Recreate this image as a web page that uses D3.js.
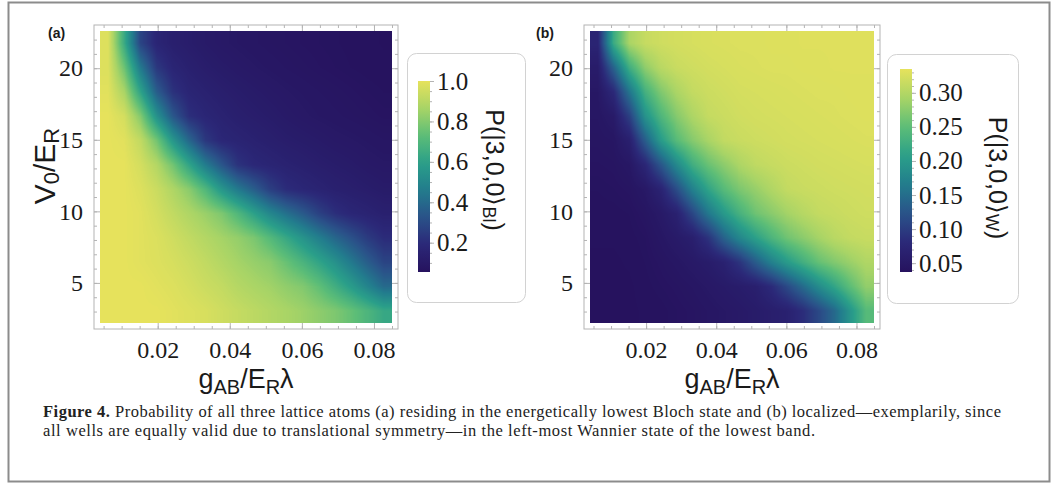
<!DOCTYPE html>
<html>
<head>
<meta charset="utf-8">
<script src="https://cdn.jsdelivr.net/npm/d3@7"></script>
<style>
  body { margin: 0; background: #fff; }
  svg { display: block; }
</style>
</head>
<body>
<div id="chart"></div>
<script>
// interaction strength g_AB/(E_R lambda), cell centres
const gValues = [0.00625, 0.01075, 0.01525, 0.01975, 0.02425, 0.02875, 0.03325, 0.03775, 0.04225,
                 0.04675, 0.05125, 0.05575, 0.06025, 0.06475, 0.06925, 0.07375, 0.07825, 0.08275];
// lattice depth V0/E_R, cell centres, top row first
const v0Values = [21.75, 20.05, 18.35, 16.65, 14.95, 13.25, 11.55, 9.85, 8.15, 6.45, 4.75, 3.05];

// (a) P(|3,0,0>_Bl)
const probBloch = [
  [0.98, 0.64, 0.28, 0.17, 0.137, 0.122, 0.108, 0.097, 0.090, 0.084, 0.079, 0.075, 0.071, 0.068, 0.065, 0.062, 0.059, 0.056],
  [0.98, 0.76, 0.45, 0.24, 0.17, 0.143, 0.125, 0.113, 0.103, 0.095, 0.088, 0.082, 0.077, 0.072, 0.068, 0.064, 0.061, 0.059],
  [0.99, 0.87, 0.61, 0.36, 0.22, 0.17, 0.15, 0.134, 0.122, 0.112, 0.103, 0.095, 0.089, 0.083, 0.078, 0.073, 0.068, 0.064],
  [1.00, 0.96, 0.80, 0.54, 0.34, 0.21, 0.175, 0.155, 0.137, 0.127, 0.117, 0.106, 0.097, 0.090, 0.085, 0.080, 0.075, 0.070],
  [1.00, 0.99, 0.92, 0.77, 0.56, 0.39, 0.24, 0.18, 0.165, 0.15, 0.137, 0.125, 0.117, 0.109, 0.10, 0.095, 0.089, 0.083],
  [1.00, 1.00, 0.96, 0.89, 0.77, 0.615, 0.46, 0.336, 0.224, 0.184, 0.168, 0.153, 0.141, 0.129, 0.12, 0.112, 0.102, 0.096],
  [1.00, 1.00, 0.98, 0.94, 0.88, 0.81, 0.70, 0.56, 0.45, 0.36, 0.26, 0.20, 0.177, 0.16, 0.143, 0.133, 0.123, 0.113],
  [1.00, 1.00, 0.99, 0.96, 0.92, 0.88, 0.84, 0.79, 0.70, 0.60, 0.50, 0.42, 0.35, 0.27, 0.21, 0.177, 0.16, 0.143],
  [1.00, 1.00, 0.99, 0.976, 0.95, 0.92, 0.89, 0.86, 0.83, 0.785, 0.71, 0.63, 0.55, 0.47, 0.39, 0.32, 0.25, 0.20],
  [1.00, 1.00, 0.99, 0.98, 0.965, 0.945, 0.92, 0.89, 0.86, 0.835, 0.81, 0.75, 0.685, 0.615, 0.54, 0.45, 0.36, 0.28],
  [1.00, 1.00, 1.00, 0.99, 0.98, 0.962, 0.942, 0.923, 0.893, 0.872, 0.853, 0.823, 0.797, 0.738, 0.66, 0.58, 0.49, 0.40],
  [1.00, 1.00, 1.00, 1.00, 0.99, 0.98, 0.968, 0.948, 0.928, 0.908, 0.888, 0.868, 0.847, 0.818, 0.79, 0.745, 0.69, 0.63]
];

// (b) P(|3,0,0>_W)
const probWannier = [
  [0.072, 0.223, 0.294, 0.313, 0.319, 0.322, 0.324, 0.326, 0.327, 0.328, 0.328, 0.329, 0.329, 0.330, 0.330, 0.330, 0.330, 0.330],
  [0.056, 0.139, 0.227, 0.278, 0.304, 0.315, 0.319, 0.322, 0.324, 0.326, 0.327, 0.328, 0.328, 0.329, 0.329, 0.330, 0.330, 0.330],
  [0.048, 0.079, 0.157, 0.231, 0.270, 0.295, 0.311, 0.317, 0.320, 0.323, 0.324, 0.325, 0.326, 0.327, 0.328, 0.328, 0.329, 0.329],
  [0.046, 0.054, 0.103, 0.191, 0.239, 0.273, 0.296, 0.312, 0.316, 0.320, 0.322, 0.323, 0.324, 0.325, 0.326, 0.327, 0.328, 0.329],
  [0.044, 0.046, 0.063, 0.133, 0.202, 0.246, 0.273, 0.293, 0.310, 0.315, 0.318, 0.320, 0.322, 0.323, 0.324, 0.325, 0.326, 0.327],
  [0.042, 0.043, 0.048, 0.075, 0.126, 0.180, 0.227, 0.257, 0.277, 0.296, 0.308, 0.313, 0.317, 0.319, 0.321, 0.322, 0.323, 0.324],
  [0.040, 0.041, 0.043, 0.050, 0.070, 0.117, 0.170, 0.213, 0.246, 0.268, 0.283, 0.298, 0.311, 0.315, 0.317, 0.319, 0.320, 0.321],
  [0.039, 0.039, 0.040, 0.044, 0.052, 0.066, 0.110, 0.160, 0.200, 0.233, 0.260, 0.275, 0.290, 0.302, 0.311, 0.314, 0.317, 0.319],
  [0.038, 0.038, 0.039, 0.041, 0.047, 0.054, 0.062, 0.090, 0.139, 0.178, 0.208, 0.237, 0.261, 0.276, 0.291, 0.304, 0.311, 0.314],
  [0.037, 0.037, 0.038, 0.040, 0.043, 0.047, 0.052, 0.057, 0.067, 0.092, 0.132, 0.170, 0.202, 0.229, 0.255, 0.271, 0.285, 0.298],
  [0.037, 0.037, 0.037, 0.039, 0.041, 0.043, 0.046, 0.050, 0.054, 0.058, 0.063, 0.081, 0.113, 0.147, 0.183, 0.215, 0.250, 0.280],
  [0.037, 0.037, 0.037, 0.038, 0.039, 0.041, 0.043, 0.046, 0.049, 0.052, 0.056, 0.061, 0.066, 0.084, 0.112, 0.145, 0.195, 0.245]
];

const xTickValues = [0.02, 0.04, 0.06, 0.08];
const yTickValues = [5, 10, 15, 20];
const blochTicks = [0.2, 0.4, 0.6, 0.8, 1.0];
const wannierTicks = [0.05, 0.10, 0.15, 0.20, 0.25, 0.30];
const blochRange = [0.055, 1.0];
const wannierRange = [0.037, 0.335];
const colorStops = ["#26125e", "#2b2878", "#2a5289", "#227c8d", "#2a9f89", "#5cbd77", "#a8d466", "#e6e25c"];

const captionLine1 = " Probability of all three lattice atoms (a) residing in the energetically lowest Bloch state and (b) localized\u2014exemplarily, since";
const captionLine2 = "all wells are equally valid due to translational symmetry\u2014in the left-most Wannier state of the lowest band.";

const W = 1053, H = 489;
const serif = "'Liberation Serif', 'Times New Roman', serif";
const sans = "'Liberation Sans', Arial, sans-serif";
const frameColor = "#b4b4b4";

const svg = d3.select("#chart").append("svg")
    .attr("width", W)
    .attr("height", H);

svg.append("rect").attr("width", W).attr("height", H).attr("fill", "#fff");
svg.append("rect")
    .attr("x", 8.5).attr("y", 2.5)
    .attr("width", 1041).attr("height", 479)
    .attr("fill", "none")
    .attr("stroke", "#8c8c8c")
    .attr("stroke-width", 2);

const colorRamp = d3.piecewise(d3.interpolateRgb, colorStops);
const lut = d3.range(256).map(i => d3.rgb(colorRamp(i / 255)));
const defs = svg.append("defs");

// cell extents from the centres
const dg = gValues[1] - gValues[0];
const dv = v0Values[0] - v0Values[1];
const gExtent = [gValues[0] - dg / 2, gValues[gValues.length - 1] + dg / 2];
const vExtent = [v0Values[v0Values.length - 1] - dv / 2, v0Values[0] + dv / 2];

function styleAxis(g, size) {
    g.select(".domain").remove();
    g.selectAll(".tick line").attr("stroke", frameColor);
    g.selectAll(".tick text")
        .attr("font-family", serif)
        .attr("font-size", size)
        .attr("fill", "#1a1a1a");
}

function drawPanel(p) {
    let x = d3.scaleLinear().domain(gExtent).range([p.left, p.right]);
    let y = d3.scaleLinear().domain(vExtent).range([p.bottom, p.top]);
    let c = d3.scaleLinear().domain(p.range).range([0, 255]).clamp(true);

    // heatmap, shaded smoothly between the grid cells
    let nx = gValues.length, ny = v0Values.length;
    let wpx = Math.round(p.right - p.left), hpx = Math.round(p.bottom - p.top);
    let canvas = document.createElement("canvas");
    canvas.width = wpx;
    canvas.height = hpx;
    let ctx = canvas.getContext("2d");
    let img = ctx.createImageData(wpx, hpx);
    for (let py = 0; py < hpx; py++) {
        let fy = (v0Values[0] - y.invert(p.top + py + 0.5)) / dv;
        fy = Math.max(0, Math.min(ny - 1, fy));
        let j0 = Math.min(Math.floor(fy), ny - 2), ty = fy - j0;
        for (let px = 0; px < wpx; px++) {
            let fx = (x.invert(p.left + px + 0.5) - gValues[0]) / dg;
            fx = Math.max(0, Math.min(nx - 1, fx));
            let i0 = Math.min(Math.floor(fx), nx - 2), tx = fx - i0;
            let v = (1 - ty) * ((1 - tx) * p.values[j0][i0] + tx * p.values[j0][i0 + 1])
                  + ty * ((1 - tx) * p.values[j0 + 1][i0] + tx * p.values[j0 + 1][i0 + 1]);
            let col = lut[Math.round(c(v))];
            let k = 4 * (py * wpx + px);
            img.data[k] = col.r;
            img.data[k + 1] = col.g;
            img.data[k + 2] = col.b;
            img.data[k + 3] = 255;
        }
    }
    ctx.putImageData(img, 0, 0);

    svg.append("image")
        .attr("href", canvas.toDataURL())
        .attr("x", x(gExtent[0]))
        .attr("y", y(vExtent[1]))
        .attr("width", x(gExtent[1]) - x(gExtent[0]))
        .attr("height", y(vExtent[0]) - y(vExtent[1]))
        .attr("preserveAspectRatio", "none");

    // frame, padded like Mathematica
    let pad = 6;
    let fl = p.left - pad, fr = p.right + pad, ft = p.top - pad, fb = p.bottom + pad;
    svg.append("rect")
        .attr("x", fl).attr("y", ft)
        .attr("width", fr - fl).attr("height", fb - ft)
        .attr("fill", "none")
        .attr("stroke", frameColor);

    let minorX = d3.range(0.005, 0.0851, 0.005);
    let minorY = d3.range(3, 23, 1);

    // bottom
    svg.append("g").attr("transform", `translate(0,${fb})`)
        .call(d3.axisBottom(x).tickValues(minorX).tickSizeInner(-3).tickSizeOuter(0).tickFormat(""))
        .call(styleAxis, 24);
    svg.append("g").attr("transform", `translate(0,${fb})`)
        .call(d3.axisBottom(x).tickValues(xTickValues).tickSizeInner(-6).tickSizeOuter(0)
            .tickPadding(12).tickFormat(d3.format(".2f")))
        .call(styleAxis, 24);
    // top
    svg.append("g").attr("transform", `translate(0,${ft})`)
        .call(d3.axisTop(x).tickValues(minorX).tickSizeInner(-3).tickSizeOuter(0).tickFormat(""))
        .call(styleAxis, 24);
    svg.append("g").attr("transform", `translate(0,${ft})`)
        .call(d3.axisTop(x).tickValues(xTickValues).tickSizeInner(-6).tickSizeOuter(0).tickFormat(""))
        .call(styleAxis, 24);
    // left
    svg.append("g").attr("transform", `translate(${fl},0)`)
        .call(d3.axisLeft(y).tickValues(minorY).tickSizeInner(-3).tickSizeOuter(0).tickFormat(""))
        .call(styleAxis, 24);
    svg.append("g").attr("transform", `translate(${fl},0)`)
        .call(d3.axisLeft(y).tickValues(yTickValues).tickSizeInner(-6).tickSizeOuter(0)
            .tickPadding(11).tickFormat(d3.format("d")))
        .call(styleAxis, 24);
    // right
    svg.append("g").attr("transform", `translate(${fr},0)`)
        .call(d3.axisRight(y).tickValues(minorY).tickSizeInner(-3).tickSizeOuter(0).tickFormat(""))
        .call(styleAxis, 24);
    svg.append("g").attr("transform", `translate(${fr},0)`)
        .call(d3.axisRight(y).tickValues(yTickValues).tickSizeInner(-6).tickSizeOuter(0).tickFormat(""))
        .call(styleAxis, 24);

    // x label g_AB/E_R λ
    let xl = svg.append("text")
        .attr("x", (fl + fr) / 2)
        .attr("y", 388)
        .attr("text-anchor", "middle")
        .attr("font-family", sans)
        .attr("font-size", 27)
        .attr("fill", "#1a1a1a");
    xl.append("tspan").text("g");
    xl.append("tspan").attr("dy", 6).attr("font-size", 20).text("AB");
    xl.append("tspan").attr("dy", -6).text("/E");
    xl.append("tspan").attr("dy", 6).attr("font-size", 20).text("R");
    xl.append("tspan").attr("dy", -6).text("\u03bb");

    // panel letter
    svg.append("text")
        .attr("x", p.letterX)
        .attr("y", 38)
        .attr("font-family", sans)
        .attr("font-weight", "bold")
        .attr("font-size", 14)
        .attr("fill", "#1a1a1a")
        .text(p.letter);

    // colour bar legend
    svg.append("rect")
        .attr("x", p.box[0] + 0.5).attr("y", p.box[1] + 0.5)
        .attr("width", p.box[2]).attr("height", p.box[3])
        .attr("rx", 9)
        .attr("fill", "#fff")
        .attr("stroke", "#d2d2d2");

    let gradId = "grad-" + p.letter.replace(/\W/g, "");
    let grad = defs.append("linearGradient")
        .attr("id", gradId)
        .attr("x1", 0).attr("y1", 1).attr("x2", 0).attr("y2", 0);
    d3.range(0, 1.0001, 0.05).forEach(t => {
        grad.append("stop").attr("offset", t).attr("stop-color", colorRamp(t));
    });

    let cb = d3.scaleLinear().domain(p.range).range([p.bar[1] + p.bar[3], p.bar[1]]);
    svg.append("rect")
        .attr("x", p.bar[0]).attr("y", p.bar[1])
        .attr("width", p.bar[2]).attr("height", p.bar[3])
        .attr("fill", `url(#${gradId})`);

    svg.append("g").attr("transform", `translate(${p.bar[0] + p.bar[2]},0)`)
        .call(d3.axisRight(cb).tickValues(p.minorTicks).tickSizeInner(2).tickSizeOuter(0).tickFormat(""))
        .call(styleAxis, 25);
    svg.append("g").attr("transform", `translate(${p.bar[0] + p.bar[2]},0)`)
        .call(d3.axisRight(cb).tickValues(p.ticks).tickSizeInner(4).tickSizeOuter(0)
            .tickPadding(3).tickFormat(d3.format(p.fmt)))
        .call(styleAxis, 25);

    let tl = svg.append("text")
        .attr("transform", `translate(${p.titleX},${p.titleY}) rotate(90)`)
        .attr("text-anchor", "middle")
        .attr("dominant-baseline", "central")
        .attr("font-family", sans)
        .attr("font-size", 25)
        .attr("fill", "#1a1a1a");
    tl.append("tspan").text("P(|3,0,0\u27e9");
    tl.append("tspan").attr("dy", 6).attr("font-size", 18).text(p.sub);
    tl.append("tspan").attr("dy", -6).text(")");
}

drawPanel({
    left: 100, right: 392, top: 31, bottom: 323,
    values: probBloch, range: blochRange,
    ticks: blochTicks, minorTicks: d3.range(0.1, 1.001, 0.05), fmt: ".1f",
    letter: "(a)", letterX: 48,
    box: [407, 53, 118, 249],
    bar: [418, 81, 12, 191],
    titleX: 495, titleY: 170, sub: "Bl"
});

drawPanel({
    left: 590, right: 874, top: 31, bottom: 323,
    values: probWannier, range: wannierRange,
    ticks: wannierTicks, minorTicks: d3.range(0.04, 0.3351, 0.01), fmt: ".2f",
    letter: "(b)", letterX: 536,
    box: [887, 54, 131, 249],
    bar: [900, 69, 12, 203],
    titleX: 998, titleY: 178, sub: "W"
});

// y label V0/E_R on panel (a)
let yl = svg.append("text")
    .attr("transform", "translate(44,166) rotate(-90)")
    .attr("text-anchor", "middle")
    .attr("dominant-baseline", "central")
    .attr("font-family", sans)
    .attr("font-size", 30)
    .attr("fill", "#1a1a1a");
yl.append("tspan").text("V");
yl.append("tspan").attr("dy", 7).attr("font-size", 22).text("0");
yl.append("tspan").attr("dy", -7).text("/E");
yl.append("tspan").attr("dy", 7).attr("font-size", 22).text("R");

// caption
let c1 = svg.append("text")
    .attr("x", 43).attr("y", 417)
    .attr("font-family", serif)
    .attr("font-size", 16.5)
    .attr("fill", "#222")
    .attr("textLength", 958)
    .attr("lengthAdjust", "spacing");
c1.append("tspan").attr("font-weight", "bold").text("Figure 4.");
c1.append("tspan").text(captionLine1);

svg.append("text")
    .attr("x", 43).attr("y", 436)
    .attr("font-family", serif)
    .attr("font-size", 16.5)
    .attr("fill", "#222")
    .attr("textLength", 772)
    .attr("lengthAdjust", "spacing")
    .text(captionLine2);
</script>
</body>
</html>
